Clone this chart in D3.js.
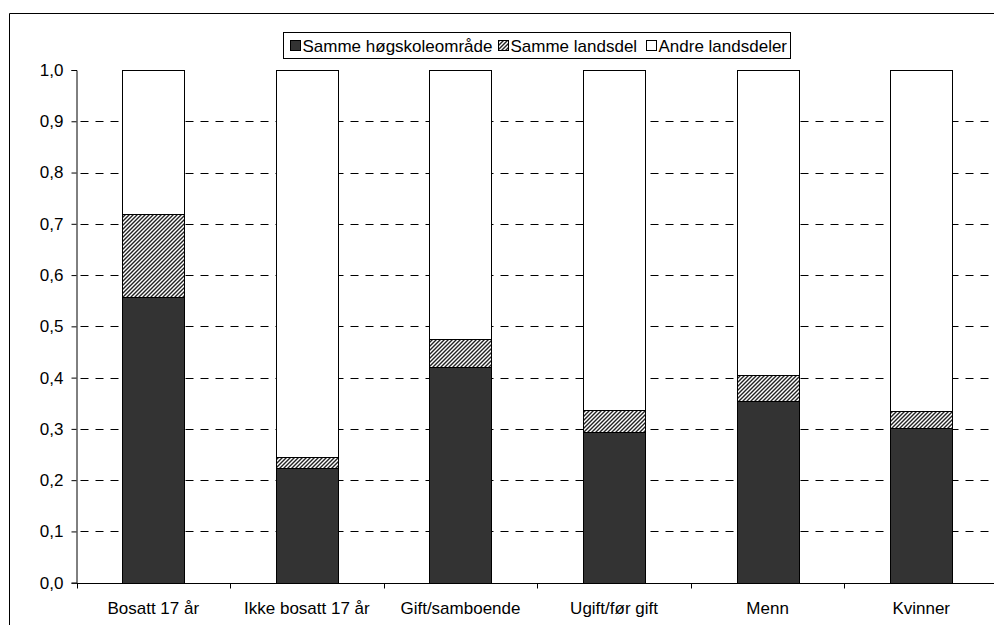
<!DOCTYPE html>
<html>
<head>
<meta charset="utf-8">
<script src="https://cdn.jsdelivr.net/npm/d3@7"></script>
<style>
  html, body { margin: 0; padding: 0; background: #fff; }
  svg { display: block; }
  text { font-family: "Liberation Sans", Arial, sans-serif; fill: #000; }
</style>
</head>
<body>
<svg id="chart" width="994" height="625"></svg>
<script>
// Categories and stacked shares (sum to 1.0 per bar)
const categories = ["Bosatt 17 år", "Ikke bosatt 17 år", "Gift/samboende", "Ugift/før gift", "Menn", "Kvinner"];
const sammeHogskole = [0.558, 0.223, 0.420, 0.293, 0.354, 0.301];
const sammeLandsdel = [0.162, 0.023, 0.055, 0.044, 0.052, 0.034];
const andreLandsdeler = sammeHogskole.map((v, i) => 1 - v - sammeLandsdel[i]);
const seriesNames = ["Samme høgskoleområde", "Samme landsdel", "Andre landsdeler"];
const yTicks = [0, 0.1, 0.2, 0.3, 0.4, 0.5, 0.6, 0.7, 0.8, 0.9, 1.0];

const rows = categories.map((c, i) => ({
  cat: c,
  "Samme høgskoleområde": sammeHogskole[i],
  "Samme landsdel": sammeLandsdel[i],
  "Andre landsdeler": andreLandsdeler[i]
}));

const FONT = 17;
const svg = d3.select("#chart");

// Diagonal hatch pattern
const defs = svg.append("defs");
const pat = defs.append("pattern")
  .attr("id", "hatch")
  .attr("patternUnits", "userSpaceOnUse")
  .attr("width", 4).attr("height", 4);
pat.append("rect").attr("width", 4).attr("height", 4).attr("fill", "#fff");
pat.append("path")
  .attr("d", "M-1,1 l2,-2 M0,4 l4,-4 M3,5 l2,-2")
  .attr("stroke", "#222").attr("stroke-width", 1.4);

const fills = {
  "Samme høgskoleområde": "#333333",
  "Samme landsdel": "url(#hatch)",
  "Andre landsdeler": "#ffffff"
};

// Outer frame
svg.append("path")
  .attr("d", "M9.5,625 V13.5 H994")
  .attr("fill", "none").attr("stroke", "#000").attr("stroke-width", 1);

const plot = { left: 76.5, right: 998, top: 70, bottom: 582.7 };

const x = d3.scaleBand().domain(categories)
  .range([plot.left, plot.right]).paddingInner(0.596).paddingOuter(0.298);
const y = d3.scaleLinear().domain([0, 1]).range([plot.bottom, plot.top]);

// Dashed gridlines
svg.append("g").selectAll("line")
  .data(yTicks.filter(t => t > 0 && t < 1))
  .join("line")
  .attr("x1", plot.left).attr("x2", plot.right)
  .attr("y1", d => Math.round(y(d)) + 0.5).attr("y2", d => Math.round(y(d)) + 0.5)
  .attr("stroke", "#000").attr("stroke-width", 1)
  .attr("stroke-dasharray", "8,7")
  .attr("stroke-dashoffset", -4);

// Stacked bars
const stack = d3.stack().keys(seriesNames)(rows);
const layers = svg.append("g").selectAll("g").data(stack).join("g")
  .attr("fill", d => fills[d.key]);
layers.selectAll("rect").data(d => d).join("rect")
  .attr("x", d => Math.round(x(d.data.cat)) + 0.5)
  .attr("y", d => Math.round(y(d[1])) + 0.5)
  .attr("width", Math.round(x.bandwidth()))
  .attr("height", d => Math.round(y(d[0])) - Math.round(y(d[1])))
  .attr("stroke", "#000").attr("stroke-width", 1);

// Y axis
const yAxis = d3.axisLeft(y).tickValues(yTicks).tickSize(5).tickPadding(8)
  .tickFormat(d => d3.format(".1f")(d).replace(".", ","));
const gy = svg.append("g").attr("transform", `translate(${plot.left},0)`).call(yAxis);
gy.select(".domain").attr("stroke", "#000");
gy.selectAll(".tick text").attr("font-size", FONT).style("font-family", '"Liberation Sans", Arial, sans-serif');
gy.selectAll(".tick line").attr("stroke", "#000");

// X axis: ticks at category boundaries
const bottomY = Math.round(plot.bottom) + 0.5;
svg.append("line")
  .attr("x1", plot.left).attr("x2", plot.right)
  .attr("y1", bottomY).attr("y2", bottomY)
  .attr("stroke", "#000");
const step = x.step();
svg.append("g").selectAll("line")
  .data(d3.range(categories.length + 1))
  .join("line")
  .attr("x1", i => Math.round(plot.left + i * step) + 0.5)
  .attr("x2", i => Math.round(plot.left + i * step) + 0.5)
  .attr("y1", bottomY).attr("y2", bottomY + 5)
  .attr("stroke", "#000");
svg.append("g").selectAll("text")
  .data(categories)
  .join("text")
  .attr("x", d => x(d) + x.bandwidth() / 2)
  .attr("y", 613.5)
  .attr("text-anchor", "middle")
  .attr("font-size", FONT)
  .text(d => d);

// Legend
const lg = svg.append("g");
lg.append("rect")
  .attr("x", 283.5).attr("y", 32.5).attr("width", 507).attr("height", 26)
  .attr("fill", "#fff").attr("stroke", "#000");
const legendItems = [
  { name: seriesNames[0], x: 290 },
  { name: seriesNames[1], x: 498 },
  { name: seriesNames[2], x: 646 }
];
legendItems.forEach(it => {
  lg.append("rect")
    .attr("x", it.x + 0.5).attr("y", 40.5).attr("width", 10).attr("height", 10)
    .attr("fill", fills[it.name]).attr("stroke", "#000");
  lg.append("text")
    .attr("x", it.x + 12.5).attr("y", 52)
    .attr("font-size", FONT)
    .text(it.name);
});
</script>
</body>
</html>
